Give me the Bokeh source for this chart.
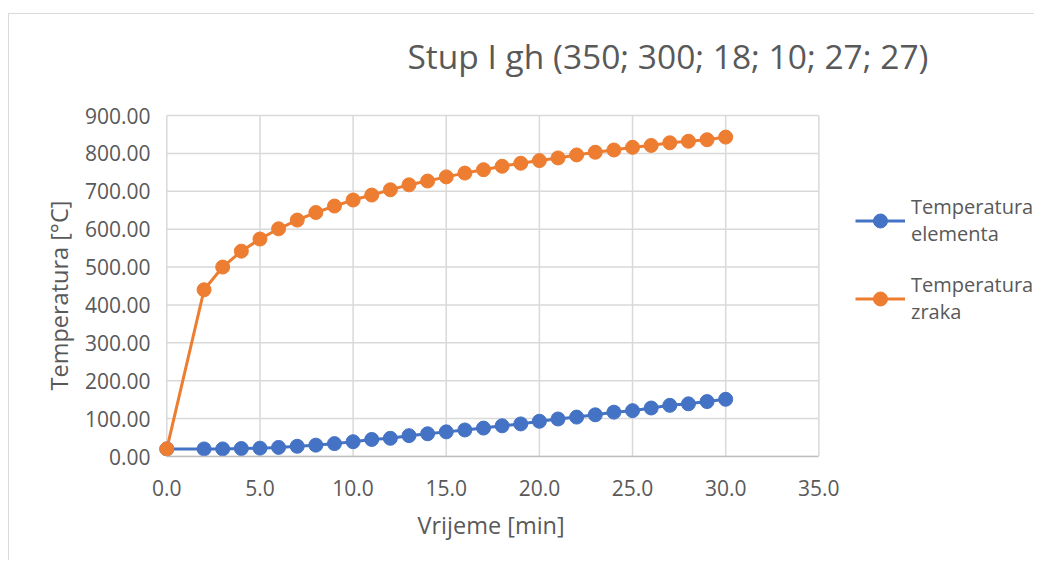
from bokeh.plotting import figure
from bokeh.models import (Range1d, NumeralTickFormatter, FixedTicker, Legend, LegendItem, Title, Label)
from bokeh.embed import file_html
from bokeh.resources import INLINE

time_min = [0, 2, 3, 4, 5, 6, 7, 8, 9, 10, 11, 12, 13, 14, 15, 16, 17, 18, 19, 20,
            21, 22, 23, 24, 25, 26, 27, 28, 29, 30]
temp_element = [20, 20, 20, 21, 22, 24, 27, 30, 34, 39, 45, 48, 55, 60, 65, 70, 75, 81,
                86, 93, 99, 104, 110, 117, 121, 128, 135, 139, 145, 151]
temp_air = [20, 440, 500, 542, 574, 601, 624, 644, 661, 677, 690, 704, 717, 727, 738,
            748, 757, 766, 774, 781, 788, 796, 803, 809, 816, 821, 828, 832, 836, 843]
x_ticks = [0, 5, 10, 15, 20, 25, 30, 35]
y_ticks = [0, 100, 200, 300, 400, 500, 600, 700, 800, 900]
title_text = "Stup I gh (350; 300; 18; 10; 27; 27)"
x_title = "Vrijeme [min]"
y_title = "Temperatura [°C]"
series_names = ["Temperatura\nelementa", "Temperatura\nzraka"]
colors = ["#4472C4", "#ED7D31"]

FONT = "Open Sans"
TXT = "#595959"
GRID = "#d9d9d9"

p = figure(width=1026, height=547, output_backend="svg", toolbar_location=None,
           x_range=Range1d(-0.5, 46.63), y_range=Range1d(y_ticks[0], 1166.6),
           min_border_left=148, min_border_right=0, min_border_top=0, min_border_bottom=105)
p.styles = {"border-left": "1px solid #d9d9d9", "border-top": "1px solid #d9d9d9",
            "margin-left": "8px", "margin-top": "13px"}
p.outline_line_color = None
p.background_fill_color = "white"
p.border_fill_color = "white"
p.grid.visible = False

# gridlines limited to the plot area (0..35, 0..900)
p.segment(x0=x_ticks, y0=[y_ticks[0]] * len(x_ticks), x1=x_ticks, y1=[y_ticks[-1]] * len(x_ticks),
          line_color=GRID, line_width=1.5, level="underlay")
p.segment(x0=[x_ticks[0]] * len(y_ticks), y0=y_ticks, x1=[x_ticks[-1]] * len(y_ticks), y1=y_ticks,
          line_color=GRID, line_width=1.5, level="underlay")

p.xaxis.ticker = FixedTicker(ticks=x_ticks)
p.yaxis.ticker = FixedTicker(ticks=y_ticks)
p.xaxis.bounds = (x_ticks[0], x_ticks[-1])
p.yaxis.bounds = (y_ticks[0], y_ticks[-1])
p.xaxis.formatter = NumeralTickFormatter(format="0.0")
p.yaxis.formatter = NumeralTickFormatter(format="0.00")
for ax in (p.xaxis, p.yaxis):
    ax.major_tick_line_color = None
    ax.minor_tick_line_color = None
    ax.major_label_text_font = FONT
    ax.major_label_text_font_size = "21px"
    ax.major_label_text_color = TXT
p.yaxis.axis_line_color = None
p.xaxis.axis_line_color = "#bfbfbf"
p.xaxis.axis_line_width = 1.5
p.xaxis.major_label_standoff = 17
p.yaxis.major_label_standoff = 1

# axis titles
p.add_layout(Title(text=x_title, align="left", offset=260, standoff=17, text_font=FONT,
                   text_font_size="23.5px", text_font_style="normal", text_color=TXT), "below")
p.add_layout(Title(text=y_title, align="left", offset=66, standoff=14, text_font=FONT,
                   text_font_size="23.5px", text_font_style="normal", text_color=TXT), "left")

# chart title (inside the chart area, above the plot)
p.add_layout(Label(x=26.9, y=1058, text=title_text, text_align="center", text_baseline="middle",
                   text_font=FONT, text_font_size="33.5px", text_color=TXT))

renderers = []
for ys, c in zip([temp_element, temp_air], colors):
    l = p.line(time_min, ys, line_color=c, line_width=3)
    s = p.scatter(time_min, ys, size=14, fill_color=c, line_color=c)
    renderers.append([l, s])

legend = Legend(items=[LegendItem(label=n, renderers=r) for n, r in zip(series_names, renderers)],
                location=(698, 131), border_line_color=None, background_fill_alpha=0,
                label_text_font=FONT, label_text_font_size="20px", label_text_color=TXT,
                glyph_width=50, glyph_height=35, spacing=24, label_standoff=6,
                padding=0, margin=0)
p.add_layout(legend, "center")

open("out.html", "w").write(file_html(p, INLINE))
